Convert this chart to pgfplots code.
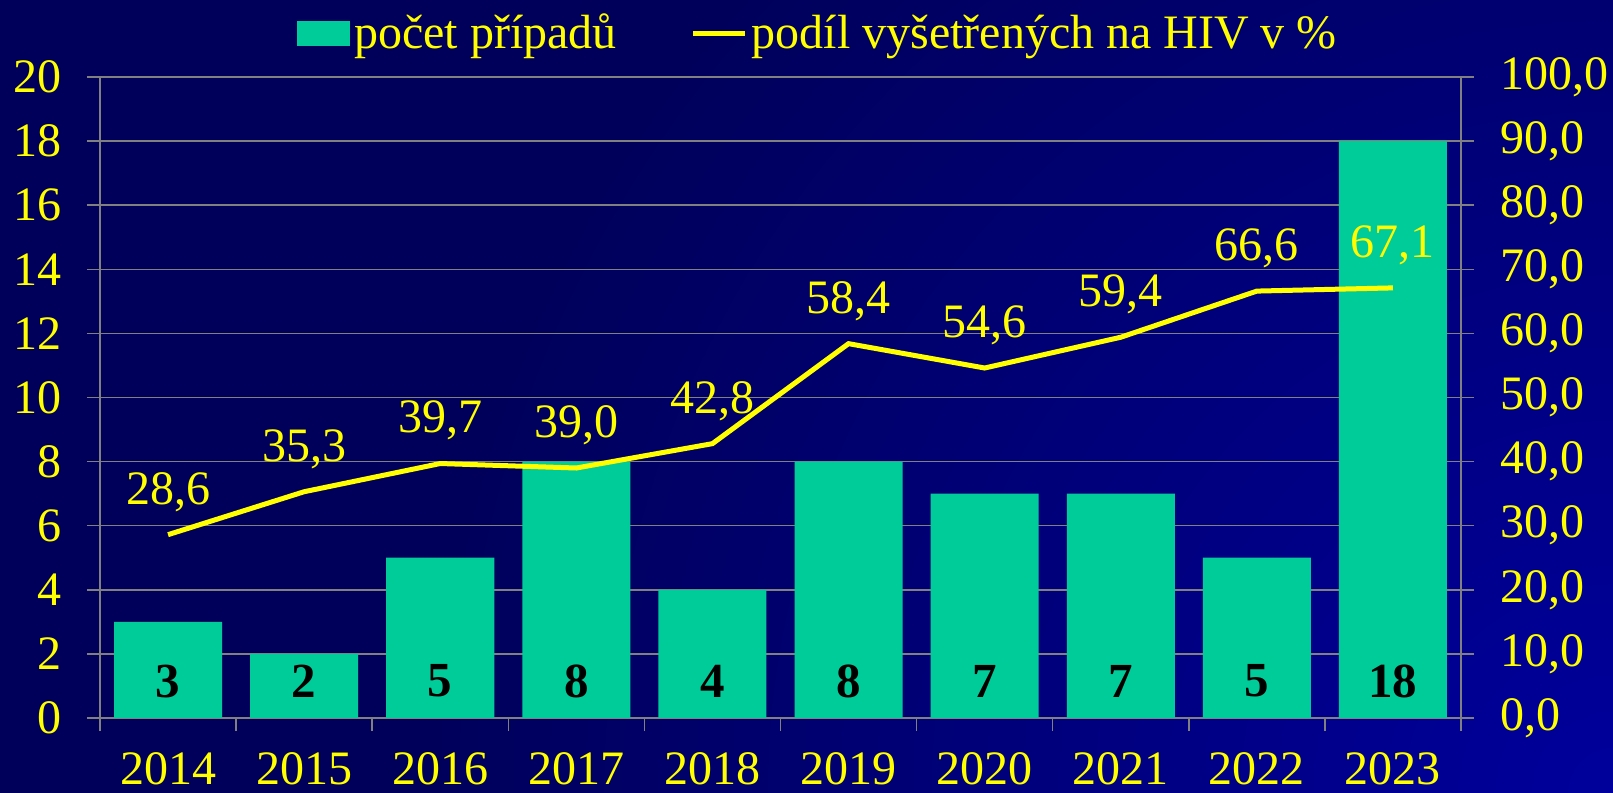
\documentclass[border=0pt]{standalone}
\usepackage{pgfplots}
\pgfplotsset{compat=1.18}
\usepackage{fontspec}
\setmainfont{Liberation Serif}
\definecolor{barcol}{HTML}{00CC99}
\definecolor{bgin}{HTML}{00009C}
\definecolor{bgout}{HTML}{00005A}
\definecolor{gridc}{HTML}{808080}
\definecolor{yel}{HTML}{FFFF00}
\begin{document}
\begin{tikzpicture}
\useasboundingbox (0,0) rectangle (806.5pt,396.5pt);
\begin{scope}
\clip (0,0) rectangle (806.5pt,396.5pt);
\fill[bgout] (0,0) rectangle (806.5pt,396.5pt);
\shade[inner color=bgin, outer color=bgout] (806.5pt,0) circle (600pt);
\end{scope}
\pgfplotsset{
  mystyle/.style={
    scale only axis, width=680.5pt, height=320.5pt,
    at={(50pt,37.5pt)}, anchor=south west,
    xmin=-0.5, xmax=9.5,
    font=\fontsize{24}{28}\selectfont,
    /pgf/number format/assume math mode=true,
    tick align=outside,
    major tick length=6.5pt,
    every tick/.style={gridc, line width=0.75pt},
    tick label style={text=yel},
  }
}
\begin{axis}[mystyle,
  ymin=0, ymax=20, ytick={0,2,...,20},
  axis y line*=left, axis x line*=bottom,
  axis line style={gridc, line width=0.75pt, -},
  ymajorgrids, grid style={gridc, line width=0.75pt},
  xtick={-0.5,0.5,...,9.5}, xticklabels={},
  extra x ticks={0,...,9},
  extra x tick labels={2014,2015,2016,2017,2018,2019,2020,2021,2022,2023},
  extra x tick style={major tick length=0pt, grid=none, tick label style={yshift=-14pt}},
  yticklabel style={xshift=-9pt},
]
\addplot[ybar, bar width=54pt, fill=barcol, draw=none] coordinates {
(0,3) (1,2) (2,5) (3,8) (4,4) (5,8) (6,7) (7,7) (8,5) (9,18)};
\addplot[draw=none, nodes near coords, point meta=explicit symbolic,
  every node near coord/.append style={anchor=center, font=\fontsize{24.5}{28}\selectfont\bfseries, text=black}]
coordinates {
(0,1.15)[3] (1,1.15)[2] (2,1.15)[5] (3,1.15)[8] (4,1.15)[4] (5,1.15)[8] (6,1.15)[7] (7,1.15)[7] (8,1.15)[5] (9,1.15)[18]};
\end{axis}
\begin{axis}[mystyle,
  ymin=0, ymax=100, ytick={0,10,...,100},
  axis y line*=right, axis x line=none,
  axis line style={gridc, line width=0.75pt, -},
  yticklabel style={/pgf/number format/.cd, fixed, fixed zerofill, precision=1, use comma, /tikz/.cd, xshift=9.5pt},
  legend style={at={(axis description cs:0.1447,1.0686)}, anchor=west, draw=none, fill=none,
    inner xsep=0pt, inner ysep=0pt, text=yel, font=\fontsize{24}{28}\selectfont,
    /tikz/every even column/.append style={column sep=35pt}},
  legend columns=2,
]
\addlegendimage{legend image code/.code={\fill[barcol] (0pt,-6pt) rectangle (26pt,6pt);}}
\addlegendentry{počet případů}
\addplot[yel, line width=2.5pt, nodes near coords, point meta=explicit symbolic,
  every node near coord/.append style={text=yel, anchor=south, yshift=7pt, font=\fontsize{24}{28}\selectfont},
  legend image code/.code={\draw[yel, line width=2.5pt] (0pt,0pt) -- (26pt,0pt);}]
coordinates {
(0,28.6)[28,6] (1,35.3)[35,3] (2,39.7)[39,7] (3,39.0)[39,0] (4,42.8)[42,8] (5,58.4)[58,4] (6,54.6)[54,6] (7,59.4)[59,4] (8,66.6)[66,6] (9,67.1)[67,1]};
\addlegendentry{podíl vyšetřených na HIV v \%}
\end{axis}
\end{tikzpicture}
\end{document}
